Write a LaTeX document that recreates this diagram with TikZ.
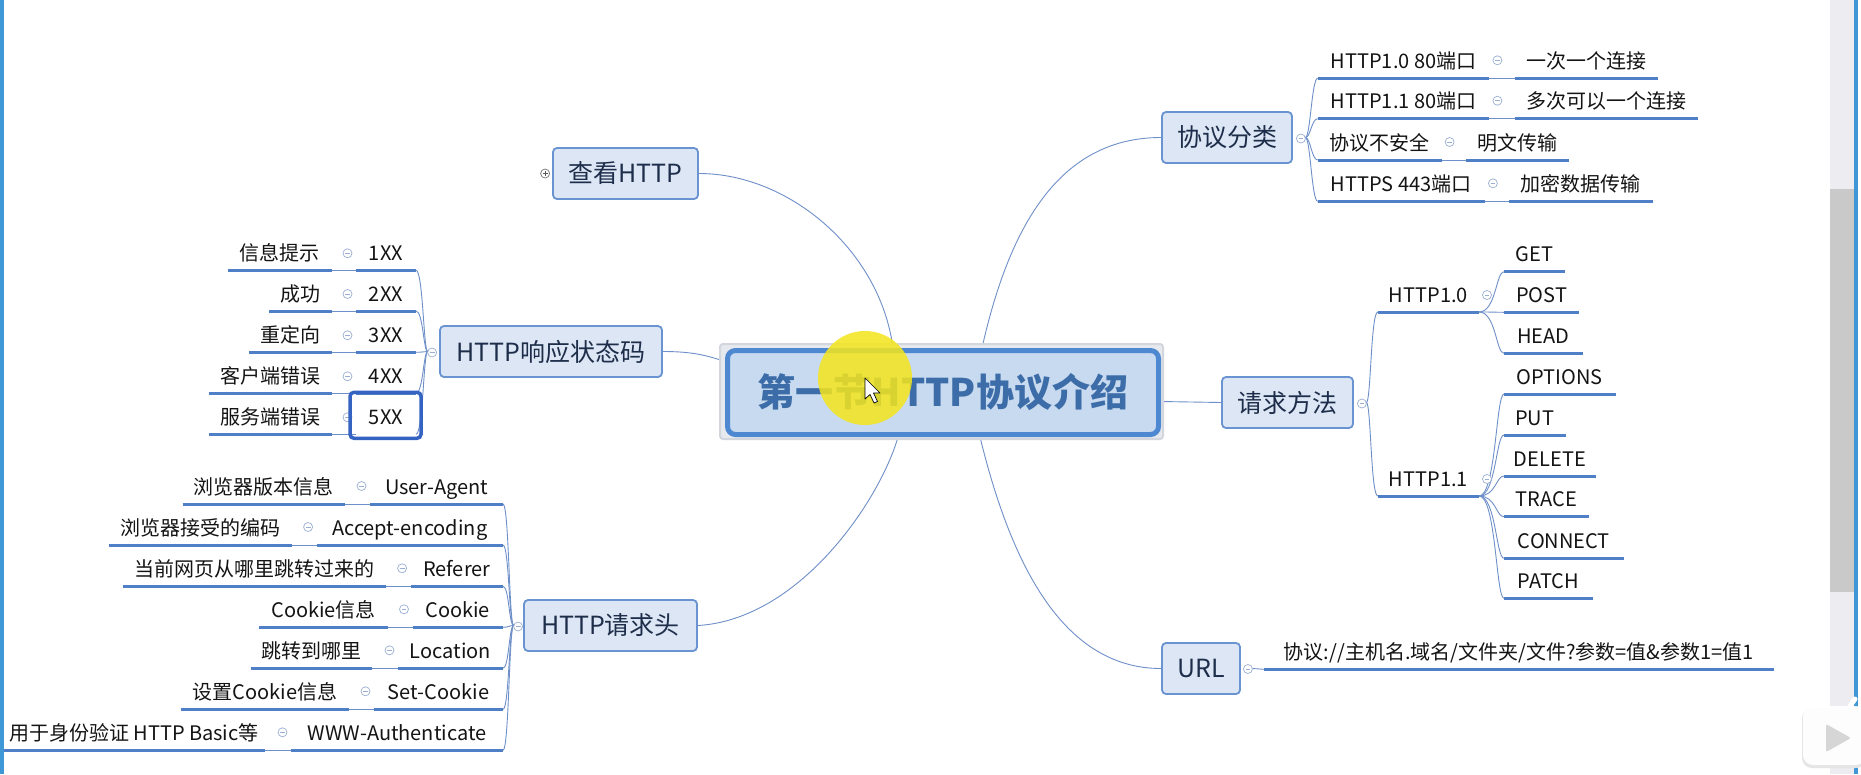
\documentclass[tikz,border=0pt]{standalone}
\usepackage{fontspec}
\setmainfont{Noto Sans CJK SC}
\usetikzlibrary{calc,backgrounds}
\definecolor{ulc}{HTML}{4F7FC6}
\definecolor{topfill}{HTML}{DCE6F5}
\definecolor{topdraw}{HTML}{6A93D2}
\definecolor{mainfill}{HTML}{C8DAEF}
\definecolor{maindraw}{HTML}{4E88D0}
\definecolor{maintext}{HTML}{3C6DA8}
\definecolor{toptext}{HTML}{1E2E4A}
\definecolor{conn}{HTML}{6E8FC8}
\definecolor{circc}{HTML}{9AAFD2}
\definecolor{halofill}{HTML}{E6E9ED}
\definecolor{halodraw}{HTML}{D3D7DD}
\definecolor{selc}{HTML}{3563C2}
\definecolor{winblue}{HTML}{3F97D6}
\definecolor{sbg}{HTML}{EDECF0}
\definecolor{sthumb}{HTML}{C9C9C9}
\definecolor{hilite}{HTML}{F4E51C}
\tikzset{
  topic/.style={draw=topdraw, line width=1.8pt, fill=topfill, rounded corners=4pt,
    minimum height=51pt, inner sep=0pt, text=toptext, font=\fontsize{25}{30}\selectfont},
  sub/.style={inner sep=0pt, outer sep=0pt, text height=20pt, text depth=10pt,
    text=black!92, font=\fontsize{20}{24}\selectfont},
  uline/.style={draw=ulc, line width=3pt},
  link/.style={draw=conn, line width=0.9pt},
  minuscirc/.pic={\draw[circc, line width=0.7pt, fill=white] (0,0) circle (4.5pt);
    \draw[circc, line width=0.7pt] (-2.4pt,0) -- (2.4pt,0);},
  pluscirc/.pic={\draw[black!55, line width=0.7pt, fill=white] (0,0) circle (4.5pt);
    \draw[black!65, line width=0.7pt] (-2.4pt,0) -- (2.4pt,0) (0,-2.4pt) -- (0,2.4pt);}
}
\begin{document}
\begin{tikzpicture}[x=1pt,y=-1pt]
\useasboundingbox (0,0) rectangle (1861,774);
\begin{scope}[on background layer]
  \fill[white] (0,0) rectangle (1861,774);
\end{scope}

% ---------- central node ----------
\node[draw=halodraw, line width=2pt, fill=halofill, rounded corners=3pt,
  minimum width=443pt, minimum height=95pt, inner sep=0pt] (halo) at (941.5,391.5) {};
\node[draw=maindraw, line width=5pt, fill=mainfill, rounded corners=8pt,
  minimum width=431pt, minimum height=84pt, inner sep=0pt, text=maintext,
  font=\fontsize{38}{44}\selectfont\bfseries] (main) at (943,392.5) {第一节HTTP协议介绍};

% ---------- main topics ----------
\node[topic, minimum width=145pt] (kan) at (625.5,173.5) {查看HTTP};
\node[topic, minimum width=222pt] (resp) at (551,351.5) {HTTP响应状态码};
\node[topic, minimum width=173pt] (req) at (610.5,625.5) {HTTP请求头};
\node[topic, minimum width=130pt] (proto) at (1227,137.5) {协议分类};
\node[topic, minimum width=131pt] (meth) at (1287.5,402.5) {请求方法};
\node[topic, minimum width=78pt] (url) at (1201,668.5) {URL};

% ---------- connections from the centre ----------
\begin{scope}[on background layer]
  \draw[link] ($(main.north)+(-50,0)$) .. controls +(-13,-98) and +(90,0) .. (kan.east);
  \draw[link] (resp.east) .. controls +(30,0) and +(-18,-6) .. ($(main.west)+(0,-31)$);
  \draw[link] ($(main.south)+(-45,0)$) .. controls +(-18,63) and +(102,-6) .. (req.east);
  \draw[link] ($(main.north)+(39,0)$) .. controls +(28,-125) and +(-100,0) .. (proto.west);
  \draw[link] ($(main.south)+(37,0)$) .. controls +(30,123) and +(-100,0) .. (url.west);
  \draw[link] ($(main.east)+(0,9)$) .. controls +(30,0) and +(-30,0) .. (meth.west);
\end{scope}

% ---------- HTTP status codes ----------
\foreach \i/\y/\lx/\lt/\ct in {1/270.3/228/信息提示/1XX,2/311/269/成功/2XX,
    3/352.3/249/重定向/3XX,4/393.3/208.5/客户端错误/4XX,5/434.3/208.5/服务端错误/5XX}{
  \pgfmathsetmacro\lw{331.5-\lx}
  \node[sub, anchor=south east, minimum width=\lw pt] (l\i) at (331.5,\y) {\lt};
  \node[sub, anchor=south west, minimum width=60pt] (c\i) at (356,\y) {\ct};
  \draw[uline] (l\i.south west) -- (l\i.south east);
  \draw[link] (l\i.south east) -- (c\i.south west);
  \draw[link] ($(resp.west)+(-11.5,0)$) .. controls +(-4,0) and +(7,0) .. (c\i.south east);
  \pic at ($(c\i.south west)+(-8.5,-17)$) {minuscirc};
}
\foreach \i in {1,2,3,4}{\draw[uline] (c\i.south west) -- (c\i.south east);}
\draw[selc, line width=3.5pt, rounded corners=4pt]
  ($(c5.south west)+(-6,4)$) rectangle ($(c5.north east)+(5,-12)$);

% ---------- HTTP request headers ----------
\foreach \i/\y/\lx/\lr/\fx/\lt/\ft in {
    1/504/182.5/344.5/370/浏览器版本信息/User-Agent,
    2/545/109.4/292/316.6/浏览器接受的编码/Accept-encoding,
    3/586.3/123.4/386.4/410.6/当前网页从哪里跳转过来的/Referer,
    4/627.3/259.3/387.8/412.5/Cookie信息/Cookie,
    5/668.3/250.5/372.4/398/跳转到哪里/Location,
    6/709.3/180.6/349/374/设置Cookie信息/Set-Cookie,
    7/750.3/2.3/265.4/291/用于身份验证 HTTP Basic等/WWW-Authenticate}{
  \pgfmathsetmacro\lw{\lr-\lx}
  \pgfmathsetmacro\fw{503-\fx}
  \node[sub, anchor=south east, minimum width=\lw pt] (h\i) at (\lr,\y) {\lt};
  \node[sub, anchor=south west, minimum width=\fw pt] (f\i) at (\fx,\y) {\ft};
  \draw[uline] (h\i.south west) -- (h\i.south east);
  \draw[uline] (f\i.south west) -- (f\i.south east);
  \draw[link] (h\i.south east) -- (f\i.south west);
  \draw[link] ($(req.west)+(-9.5,0)$) .. controls +(-4.5,0) and +(6,0) .. (f\i.south east);
  \pic at ($(f\i.south west)+(-8.5,-18)$) {minuscirc};
}

% ---------- protocol classes ----------
\foreach \i/\y/\pr/\rx/\rr/\ta/\tb in {
    1/78.3/1489.4/1514.5/1658/HTTP1.0 80端口/一次一个连接,
    2/118.7/1489.4/1514.5/1697.6/HTTP1.1 80端口/多次可以一个连接,
    3/160/1441.6/1465.7/1569/协议不安全/明文传输,
    4/201.3/1484.9/1509/1652.5/HTTPS 443端口/加密数据传输}{
  \pgfmathsetmacro\pw{\pr-1317.7}
  \pgfmathsetmacro\rw{\rr-\rx}
  \node[sub, anchor=south west, minimum width=\pw pt] (p\i) at (1317.7,\y) {\ta};
  \node[sub, anchor=south west, minimum width=\rw pt] (r\i) at (\rx,\y) {\tb};
  \draw[uline] (p\i.south west) -- (p\i.south east);
  \draw[uline] (r\i.south west) -- (r\i.south east);
  \draw[link] (p\i.south east) -- (r\i.south west);
  \draw[link] ($(proto.east)+(12.5,0)$) .. controls +(5,0) and +(-6,0) .. (p\i.south west);
  \pic at ($(p\i.south east)+(8,-18)$) {minuscirc};
}

% ---------- request methods ----------
\node[sub, anchor=south west, minimum width=101.2pt] (m10) at (1377.8,312) {HTTP1.0};
\node[sub, anchor=south west, minimum width=101.2pt] (m11) at (1377.8,496) {HTTP1.1};
\foreach \m in {m10,m11}{
  \draw[uline] (\m.south west) -- (\m.south east);
  \draw[link] ($(meth.east)+(12.5,0)$) .. controls +(4.5,0) and +(-7,0) .. (\m.south west);
}
\foreach \n/\y/\w in {GET/271.7/60.6,POST/312.3/75,HEAD/353.3/78.8}{
  \node[sub, anchor=south west, minimum width=\w pt] (k\n) at (1504,\y) {\n};
  \draw[uline] (k\n.south west) -- (k\n.south east);
  \draw[link] (m10.south east) .. controls +(17,0) and +(-8,0) .. (k\n.south west);
}
\foreach \n/\y/\w in {OPTIONS/394/111.6,PUT/435/61.5,DELETE/476/91.6,
    TRACE/516.7/84.7,CONNECT/558.3/119.8,PATCH/598.3/88.8}{
  \node[sub, anchor=south west, minimum width=\w pt] (k\n) at (1504,\y) {\n};
  \draw[uline] (k\n.south west) -- (k\n.south east);
  \draw[link] (m11.south east) .. controls +(17,0) and +(-8,0) .. (k\n.south west);
}
\pic at ($(m10.south east)+(8,-17)$) {minuscirc};
\pic at ($(m11.south east)+(8,-17)$) {minuscirc};

% ---------- URL ----------
\node[sub, anchor=south west, minimum width=509.8pt] (uc) at (1264,669.3)
  {协议://主机名.域名/文件夹/文件?参数=值\&参数1=值1};
\draw[uline] (uc.south west) -- (uc.south east);
\draw[link] ($(url.east)+(11.5,0)$) -- (uc.south west);

% ---------- topic toggles ----------
\pic at ($(kan.west)+(-7,0)$) {pluscirc};
\pic at ($(resp.west)+(-7,1)$) {minuscirc};
\pic at ($(req.west)+(-5,1)$) {minuscirc};
\pic at ($(proto.east)+(8,1)$) {minuscirc};
\pic at ($(meth.east)+(8,1)$) {minuscirc};
\pic at ($(url.east)+(7,0.5)$) {minuscirc};

% ---------- cursor highlight ----------
\fill[hilite, opacity=0.85] (865,378) circle (47pt);
\draw[black, line width=0.7pt, fill=white, line join=round]
  (865,378) -- (865,399) -- (870,394.5) -- (874,403) -- (877.5,401.5) -- (873.5,393) -- (880,393) -- cycle;

% ---------- window chrome ----------
\fill[winblue] (0,0) rectangle (3.5,774);
\fill[sbg] (1830,0) rectangle (1854,774);
\fill[sthumb] (1830,189) rectangle (1854,592);
\fill[winblue] (1854,0) rectangle (1857.5,774);
\fill[black!10, rounded corners=10pt] (1802,708) rectangle (1866,768);
\fill[white, opacity=0.95, rounded corners=10pt] (1803,706) rectangle (1866,765);
\draw[white, line width=5pt, line cap=round] (1825,706) -- (1820,699) (1850,706) -- (1855,699);
\fill[black!16, rounded corners=2pt] (1826,724) -- (1826,752) -- (1851,738) -- cycle;
\end{tikzpicture}
\end{document}
